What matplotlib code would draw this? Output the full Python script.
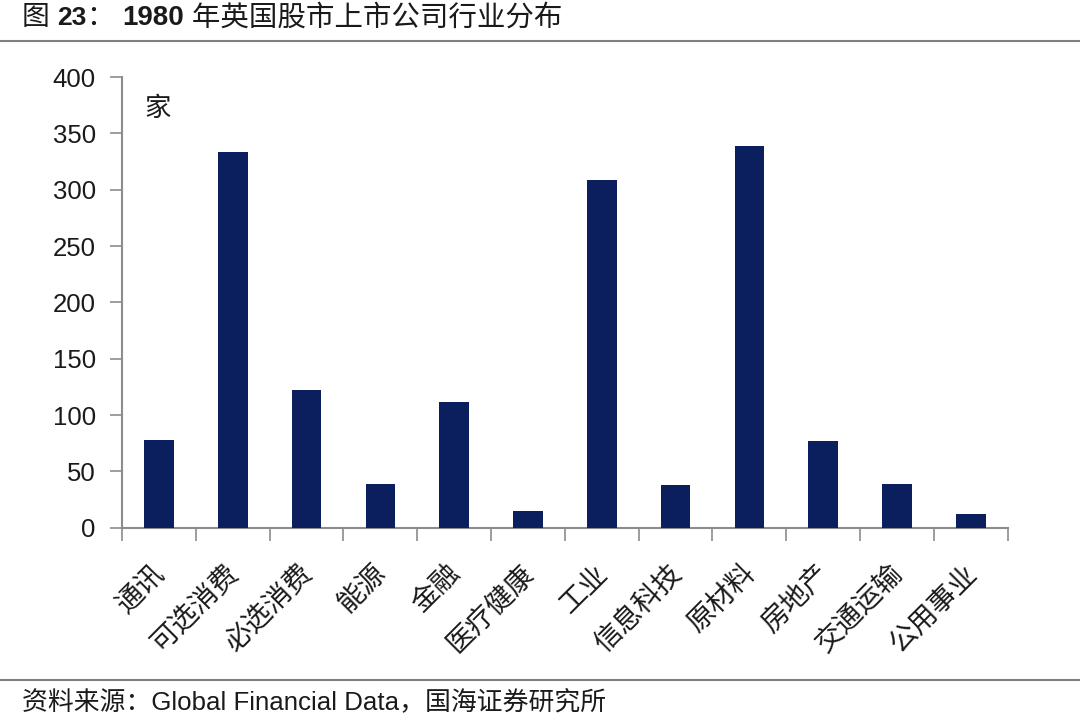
import numpy as np
import matplotlib
matplotlib.use("Agg")
import matplotlib.pyplot as plt
from matplotlib.lines import Line2D
from matplotlib.transforms import ScaledTranslation

plt.rcParams['font.family'] = ['Liberation Sans', 'Noto Sans CJK SC', 'DejaVu Sans']

industries = ["通讯", "可选消费", "必选消费", "能源", "金融", "医疗健康",
              "工业", "信息科技", "原材料", "房地产", "交通运输", "公用事业"]
counts = [78, 334, 122, 39, 112, 15, 309, 38, 339, 77, 39, 12]
y_ticks = [0, 50, 100, 150, 200, 250, 300, 350, 400]

bar_color = "#0b1f5e"
axis_color = "#8c8c8c"

fig = plt.figure(figsize=(10.8, 7.21), dpi=100)
ax = fig.add_axes([0.113, 0.268, 0.82, 0.625])

x = np.arange(len(industries))
ax.bar(x, counts, width=0.4, color=bar_color, zorder=3)

ax.set_xlim(-0.5, len(industries) - 0.5)
ax.set_ylim(0, 400)
ax.set_yticks(y_ticks)
ax.set_yticklabels([str(v) for v in y_ticks], fontsize=18.5, color="#1a1a1a")

# ticks between categories on x axis, labels at centres
ax.set_xticks(np.arange(len(industries) + 1) - 0.5)
ax.set_xticklabels([])
ax.set_xticks(x, minor=True)
ax.set_xticklabels(industries, minor=True, rotation=45, ha="right",
                   va="top", rotation_mode="anchor", fontsize=20,
                   family=['Noto Sans CJK SC', 'DejaVu Sans'], color="#1a1a1a")
ax.tick_params(axis="x", which="minor", length=0, pad=22)
ax.tick_params(axis="x", which="major", length=9, width=1.2, color=axis_color, direction="out")
ax.tick_params(axis="y", length=9, width=1.2, color=axis_color, direction="out", pad=10)

shift = ScaledTranslation(-9 / 100, 0, fig.dpi_scale_trans)
for lab in ax.get_xticklabels(minor=True):
    lab.set_transform(lab.get_transform() + shift)

for s in ["top", "right"]:
    ax.spines[s].set_visible(False)
for s in ["left", "bottom"]:
    ax.spines[s].set_color(axis_color)
    ax.spines[s].set_linewidth(1.5)

ax.text(0.025, 0.96, "家", transform=ax.transAxes, fontsize=19, va="top",
        family=['Noto Sans CJK SC'], color="#1a1a1a")

# title built from pieces (bold digits)
pieces = [("图 ", "normal", 20), ("23", "bold", 19), ("： ", "normal", 20),
          ("1980", "bold", 20), (" 年英国股市上市公司行业分布", "normal", 20.5)]
renderer = fig.canvas.get_renderer()
xpos = 22 / 1080
for txt, w, fs in pieces:
    t = fig.text(xpos, 1 - 18 / 721, txt, fontsize=fs, fontweight=w, va="center",
                 ha="left", color="#1a1a1a")
    bb = t.get_window_extent(renderer=renderer)
    xpos += bb.width / 1080

fig.add_artist(Line2D([0.0, 1.0], [1 - 41 / 721, 1 - 41 / 721], color="#7f7f7f", lw=1.5))
fig.add_artist(Line2D([0.0, 1.0], [1 - 680 / 721, 1 - 680 / 721], color="#7f7f7f", lw=1.5))

fig.text(22 / 1080, 1 - 703 / 721, "资料来源：Global Financial Data，国海证券研究所",
         fontsize=18.6, va="center", ha="left", color="#1a1a1a")

fig.savefig("out.png", dpi=100, facecolor="white")
